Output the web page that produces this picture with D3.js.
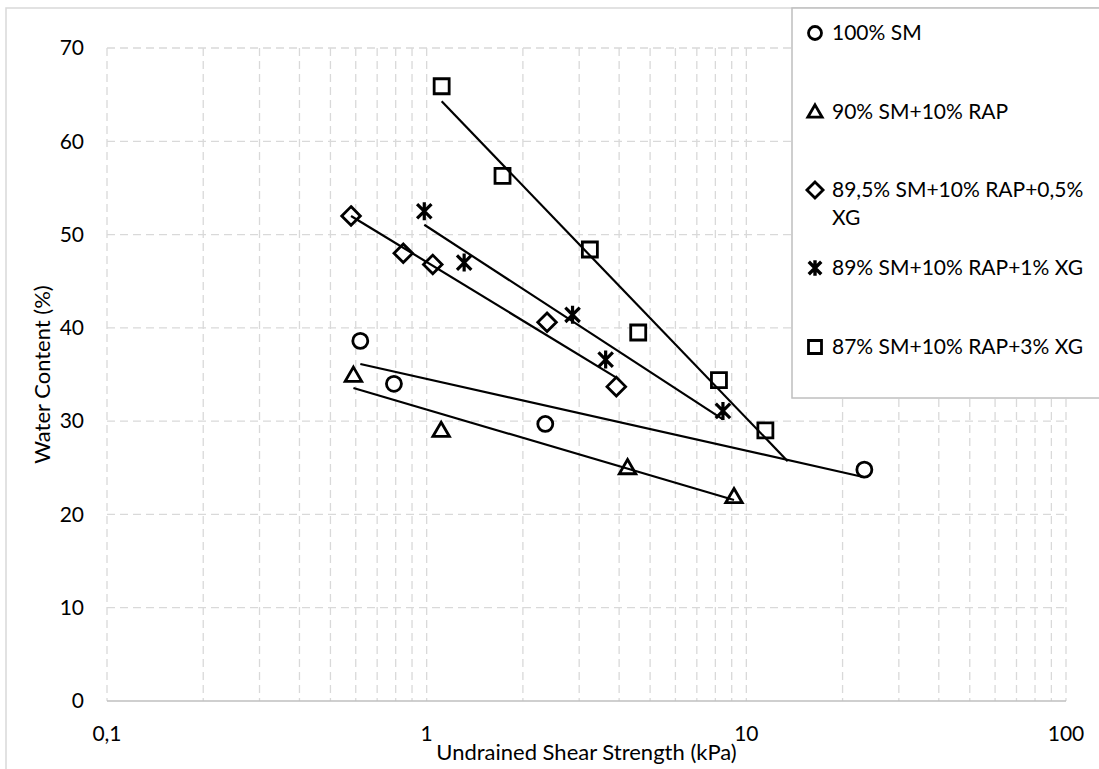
<!DOCTYPE html>
<html>
<head>
<meta charset="utf-8">
<script src="https://cdn.jsdelivr.net/npm/d3@7"></script>
<style>
  html, body { margin: 0; padding: 0; background: #ffffff; }
  svg { display: block; font-family: Lato, "Open Sans", sans-serif; }
</style>
</head>
<body>
<svg id="chart" width="1099" height="769"></svg>
<script>
// ---- data ----
const seriesNames = ["100% SM", "90% SM+10% RAP", "89,5% SM+10% RAP+0,5% XG", "89% SM+10% RAP+1% XG", "87% SM+10% RAP+3% XG"];
const legendLines = [["100% SM"], ["90% SM+10% RAP"], ["89,5% SM+10% RAP+0,5%", "XG"], ["89% SM+10% RAP+1% XG"], ["87% SM+10% RAP+3% XG"]];
const markerTypes = ["circle", "triangle", "diamond", "star", "square"];

const sm100_x = [0.62, 0.79, 2.35, 23.4];
const sm100_y = [38.6, 34.0, 29.7, 24.8];
const rap10_x = [0.59, 1.11, 4.25, 9.15];
const rap10_y = [34.9, 29.0, 25.0, 21.9];
const xg05_x = [0.58, 0.845, 1.045, 2.38, 3.92];
const xg05_y = [52.0, 48.0, 46.8, 40.6, 33.7];
const xg1_x = [0.983, 1.31, 2.86, 3.63, 8.45];
const xg1_y = [52.5, 47.0, 41.4, 36.6, 31.1];
const xg3_x = [1.114, 1.727, 3.24, 4.59, 8.21, 11.47];
const xg3_y = [65.9, 56.3, 48.4, 39.5, 34.4, 29.0];
const trendForward = [0, 0, 0, 0, 2];   // forward forecast of the log trendline (x units)

const xTickValues = [0.1, 1, 10, 100];
const xTickLabels = ["0,1", "1", "10", "100"];
const yTickValues = [0, 10, 20, 30, 40, 50, 60, 70];
const xTitle = "Undrained Shear Strength (kPa)";
const yTitle = "Water Content (%)";

const seriesX = [sm100_x, rap10_x, xg05_x, xg1_x, xg3_x];
const seriesY = [sm100_y, rap10_y, xg05_y, xg1_y, xg3_y];

// ---- layout ----
const svg = d3.select("#chart");
const L = 107, R = 1066, T = 48, B = 701;
const x = d3.scaleLog().domain([0.1, 100]).range([L, R]);
const y = d3.scaleLinear().domain([0, 70]).range([B, T]);

// outer chart border
svg.append("rect").attr("x", 6).attr("y", 8).attr("width", 1110).attr("height", 780)
  .attr("fill", "none").attr("stroke", "#d9d9d9").attr("stroke-width", 1.5);

// gridlines
const grid = svg.append("g");
grid.selectAll("line.v").data(x.ticks()).join("line")
  .attr("x1", d => x(d)).attr("x2", d => x(d)).attr("y1", T).attr("y2", B)
  .attr("stroke", "#d9d9d9").attr("stroke-width", 1.3).attr("stroke-dasharray", "8,5");
grid.selectAll("line.h").data(yTickValues.filter(d => d > 0)).join("line")
  .attr("x1", L).attr("x2", R).attr("y1", d => y(d)).attr("y2", d => y(d))
  .attr("stroke", "#d9d9d9").attr("stroke-width", 1.3).attr("stroke-dasharray", "8,5");

// x axis line
svg.append("line").attr("x1", L).attr("x2", R).attr("y1", y(0)).attr("y2", y(0))
  .attr("stroke", "#bfbfbf").attr("stroke-width", 1.5);

// tick labels
svg.append("g").selectAll("text").data(yTickValues).join("text")
  .attr("x", 84).attr("y", d => y(d)).attr("dy", "0.35em")
  .attr("text-anchor", "end").attr("font-size", 21).attr("fill", "#000")
  .text(d => d);
svg.append("g").selectAll("text").data(xTickValues).join("text")
  .attr("x", d => x(d)).attr("y", 734).attr("dy", "0.35em")
  .attr("text-anchor", "middle").attr("font-size", 21).attr("fill", "#000")
  .text((d, i) => xTickLabels[i]);

// axis titles
svg.append("text").attr("x", (L + R) / 2).attr("y", 752).attr("dy", "0.35em")
  .attr("text-anchor", "middle").attr("font-size", 22).attr("fill", "#000").text(xTitle);
svg.append("text").attr("transform", `translate(42,${(T + B) / 2}) rotate(-90)`).attr("dy", "0.35em")
  .attr("text-anchor", "middle").attr("font-size", 22).attr("fill", "#000").text(yTitle);

// marker path generator
function markerPath(type, s) {
  switch (type) {
    case "circle": return d3.symbol(d3.symbolCircle, Math.PI * s * s / 4)();
    case "square": return `M${-s/2},${-s/2}H${s/2}V${s/2}H${-s/2}Z`;
    case "diamond": { const h = s * 0.62; return `M0,${-h}L${h},0L0,${h}L${-h},0Z`; }
    case "triangle": { const h = s * 0.95, w = s * 0.55; return `M0,${-h*0.58}L${w},${h*0.42}L${-w},${h*0.42}Z`; }
    case "star": { const a = s * 0.48, v = s * 0.6; return `M0,${-v}V${v}M${-a},${-a}L${a},${a}M${-a},${a}L${a},${-a}`; }
  }
}

// markers
seriesX.forEach((xs, si) => {
  const pts = xs.map((d, i) => [d, seriesY[si][i]]);
  svg.append("g").selectAll("path").data(pts).join("path")
    .attr("transform", d => `translate(${x(d[0])},${y(d[1])})`)
    .attr("d", markerPath(markerTypes[si], 15))
    .attr("fill", markerTypes[si] === "star" ? "none" : "#fff")
    .attr("stroke", "#000").attr("stroke-width", markerTypes[si] === "star" ? 3.2 : 2.8)
    .attr("stroke-linejoin", "miter");
});

// logarithmic trendlines (least squares y = a ln x + b)
seriesX.forEach((xs, si) => {
  const ys = seriesY[si];
  const lx = xs.map(Math.log);
  const mx = d3.mean(lx), my = d3.mean(ys);
  const a = d3.sum(lx, (v, i) => (v - mx) * (ys[i] - my)) / d3.sum(lx, v => (v - mx) ** 2);
  const b = my - a * mx;
  const x0 = d3.min(xs), x1 = d3.max(xs) + trendForward[si];
  const line = d3.line().x(d => x(d)).y(d => y(a * Math.log(d) + b));
  svg.append("path").attr("d", line([x0, x1]))
    .attr("fill", "none").attr("stroke", "#000").attr("stroke-width", 2.2);
});

// legend
const lg = svg.append("g");
lg.append("rect").attr("x", 792).attr("y", 8).attr("width", 330).attr("height", 390)
  .attr("fill", "#fff").attr("stroke", "#bfbfbf").attr("stroke-width", 1.5);
const legendRowY = [33, 112, 190, 268, 347];
legendLines.forEach((lines, i) => {
  lg.append("path").attr("transform", `translate(815,${legendRowY[i]})`)
    .attr("d", markerPath(markerTypes[i], 13))
    .attr("fill", markerTypes[i] === "star" ? "none" : "#fff")
    .attr("stroke", "#000").attr("stroke-width", markerTypes[i] === "star" ? 3.4 : 2.8);
  lines.forEach((t, j) => {
    lg.append("text").attr("x", 832).attr("y", legendRowY[i] + j * 28).attr("dy", "0.35em")
      .attr("font-size", 21).attr("fill", "#000").text(t);
  });
});
</script>
</body>
</html>
